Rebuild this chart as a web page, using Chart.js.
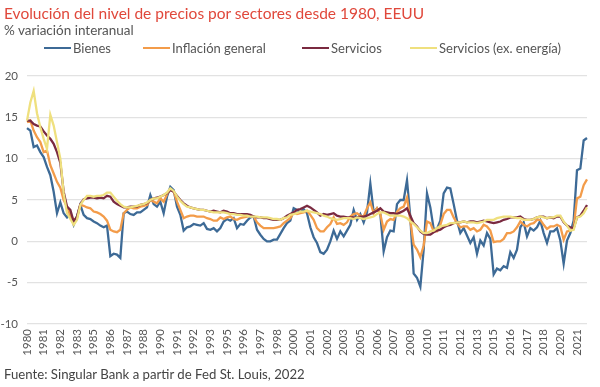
<!DOCTYPE html>
<html>
<head>
<meta charset="utf-8">
<script src="https://cdn.jsdelivr.net/npm/chart.js@4.4.1/dist/chart.umd.min.js"></script>
<style>
  body { margin: 0; background: #fff; font-family: Lato, "Open Sans", sans-serif; }
  #wrap { position: relative; width: 600px; height: 387px; overflow: hidden; }
  #chart { position: absolute; left: 0; top: 0; }
  .txt { position: absolute; white-space: nowrap; }
  .title { left: 4px; top: 4px; font-size: 15.5px; color: #e0483b; }
  .sub { left: 4px; top: 22px; font-size: 13.5px; color: #555; }
  .footer { left: 4px; top: 366px; font-size: 13.2px; color: #444; }
  .leg { position: absolute; top: 40px; font-size: 13px; color: #555; display: flex; align-items: center; white-space: nowrap; }
  .leg span.ln { display: inline-block; width: 27px; height: 2px; margin-right: 2px; }
</style>
</head>
<body>
<div id="wrap">
  <canvas id="chart" width="600" height="387"></canvas>
  <div class="txt title">Evolución del nivel de precios por sectores desde 1980, EEUU</div>
  <div class="txt sub">% variación interanual</div>
  <div id="legend"></div>
  <div class="txt footer">Fuente: Singular Bank a partir de Fed St. Louis, 2022</div>
</div>
<script>
// quarterly data, 1980 Q1 -> 2022 Q1 (% yoy)
let startYear = 1980;
let yTicks = [-10, -5, 0, 5, 10, 15, 20];

let bienes = [
  13.7, 13.4, 11.4, 11.6,
  10.8, 10.2, 9.0, 8.0,
  6.0, 3.4, 4.7, 3.4,
  2.9, 3.4, 2.0, 3.0,
  4.4, 3.2, 2.8, 2.7,
  2.4, 2.2, 1.9, 1.7,
  1.9, -1.8, -1.5, -1.6,
  -2.0, 3.4, 3.6, 3.3,
  3.2, 3.5, 3.5, 3.8,
  4.1, 5.6, 4.5, 4.2,
  4.8, 3.4, 5.4, 6.6,
  6.2, 4.2, 3.2, 1.3,
  1.7, 1.8, 2.1, 2.0,
  1.9, 2.2, 1.5, 1.4,
  1.6, 1.2, 1.6, 2.4,
  2.7, 2.5, 2.8, 1.6,
  2.1, 2.0, 2.5, 2.9,
  3.0, 1.4, 0.8, 0.3,
  0.0, 0.0, 0.2, 0.2,
  0.9, 1.6, 2.2, 2.5,
  4.0, 3.8, 3.5, 3.9,
  3.4, 1.7, 0.5, -0.2,
  -1.3, -1.5, -1.0, 0.0,
  1.3, 0.3, 1.2, 0.6,
  1.3, 2.0, 3.8, 2.6,
  3.3, 2.3, 3.5, 7.0,
  3.5, 4.0, 3.3, -1.2,
  0.5, 1.3, 1.2, 4.5,
  5.0, 5.0, 7.4, 2.9,
  -3.9, -4.4, -5.5, -1.0,
  5.8, 4.1, 1.5, 1.5,
  2.5, 5.8, 6.5, 6.4,
  4.5, 2.5, 1.0, 1.6,
  0.7, -0.2, 0.5, -1.5,
  0.1, -0.5, 1.0, 0.3,
  -4.0, -3.3, -3.5, -3.0,
  -3.2, -1.3, -2.0, -1.0,
  1.7, 2.3, 0.6, 1.6,
  1.3, 1.7, 2.5, 1.0,
  -0.2, 1.2, 1.2, 1.6,
  0.1, -2.7, 0.1, 1.0,
  2.5, 8.6, 8.8, 12.2,
  12.5
];

let inflacionGeneral = [
  14.4, 14.6, 13.4, 12.6,
  12.0, 10.8, 11.0, 9.2,
  8.2, 7.2, 6.5, 5.0,
  4.2, 3.1, 2.6, 2.8,
  4.4, 4.3, 4.1, 4.0,
  3.6, 3.5, 3.3, 3.0,
  2.5, 1.4, 1.2, 1.1,
  1.4, 3.4, 3.8, 4.1,
  4.0, 4.0, 4.2, 4.3,
  4.4, 5.0, 4.8, 4.6,
  5.2, 4.8, 5.7, 6.3,
  6.0, 4.8, 3.8, 2.8,
  3.0, 3.1, 3.1, 3.0,
  3.0, 3.0, 2.8, 2.7,
  2.5, 2.5, 2.9, 2.7,
  2.9, 3.0, 2.7, 2.6,
  2.8, 2.9, 3.0, 3.1,
  3.0, 2.3, 1.9, 1.6,
  1.6, 1.6, 1.6, 1.7,
  1.8, 2.2, 2.5, 2.8,
  3.5, 3.3, 3.4, 3.5,
  3.7, 3.2, 2.6, 1.6,
  1.2, 1.2, 1.7, 2.1,
  2.9, 2.1, 2.2, 2.0,
  2.3, 3.0, 3.3, 3.4,
  3.1, 3.0, 4.0, 4.7,
  3.4, 4.0, 3.3, 1.4,
  2.4, 2.7, 2.6, 3.6,
  4.0, 4.2, 5.3, 2.5,
  -0.4, -1.0, -1.9, -0.5,
  2.4, 2.2, 1.2, 1.2,
  2.0, 3.3, 3.8, 3.8,
  2.9, 2.2, 1.7, 1.8,
  1.8, 1.4, 1.6, 1.2,
  1.4, 2.0, 1.8, 1.3,
  -0.1, 0.0, 0.0, 0.3,
  1.0, 1.0, 1.2, 1.7,
  2.4, 2.0, 1.8, 2.1,
  2.2, 2.6, 2.6, 2.0,
  1.5, 1.8, 1.8, 2.0,
  1.8, 0.2, 1.2, 1.3,
  1.7, 5.2, 5.4, 6.8,
  7.5
];

let servicios = [
  14.6, 14.6, 14.2, 14.0,
  13.9, 13.3, 12.8, 12.4,
  11.8, 10.8, 9.5, 6.0,
  4.2, 3.8, 2.4, 3.0,
  4.5, 5.1, 5.2, 5.3,
  5.3, 5.2, 5.3, 5.2,
  5.5, 5.4, 4.8, 4.5,
  4.3, 4.1, 4.1, 4.2,
  4.2, 4.2, 4.4, 4.5,
  4.6, 5.0, 5.2, 5.3,
  5.4, 5.6, 5.8, 6.2,
  6.0, 5.5, 5.0, 4.6,
  4.3, 4.1, 4.0, 3.9,
  3.8, 3.8, 3.7, 3.6,
  3.7, 3.6, 3.5, 3.7,
  3.6, 3.4, 3.4, 3.3,
  3.3, 3.3, 3.3, 3.2,
  3.0, 2.9, 2.9, 2.8,
  2.8, 2.7, 2.6, 2.6,
  2.6, 2.8, 3.1, 3.3,
  3.5, 3.8, 3.9, 4.1,
  4.3, 4.1, 3.8, 3.5,
  3.1, 3.3, 3.2, 3.3,
  3.4, 3.1, 3.0, 3.0,
  2.9, 2.9, 2.9, 2.9,
  3.0, 3.0, 3.1, 3.3,
  3.5, 3.7, 4.0, 3.6,
  3.5, 3.4, 3.4, 3.3,
  3.5, 3.7, 4.0, 3.1,
  2.2, 1.8, 1.2, 0.9,
  0.8, 0.8, 1.1, 1.3,
  1.4, 1.7, 1.9, 2.0,
  2.2, 2.3, 2.3, 2.4,
  2.3, 2.4, 2.4, 2.3,
  2.4, 2.5, 2.4, 2.3,
  2.2, 2.3, 2.4, 2.6,
  2.7, 2.9, 2.9, 2.9,
  3.0, 2.7, 2.6, 2.6,
  2.7, 2.9, 3.0, 3.0,
  2.8, 2.9, 2.8, 3.0,
  3.0, 2.3, 1.9, 1.7,
  1.6, 2.9, 3.1, 3.7,
  4.4
];

let serviciosExEnergia = [
  14.6, 16.8, 18.2, 15.5,
  13.8, 12.4, 11.2, 15.3,
  14.0, 12.0, 10.0, 5.8,
  3.4, 2.7, 2.0, 2.6,
  4.4, 5.0, 5.5, 5.5,
  5.4, 5.5, 5.5, 5.6,
  5.9, 5.9, 5.4, 4.9,
  4.5, 4.2, 4.1, 4.1,
  4.2, 4.3, 4.4, 4.5,
  4.7, 5.0, 5.2, 5.2,
  5.4, 5.6, 5.9, 6.4,
  6.1, 5.4, 4.9, 4.5,
  4.2, 4.1, 4.0, 3.9,
  3.8, 3.8, 3.7, 3.6,
  3.5, 3.5, 3.5, 3.5,
  3.4, 3.3, 3.3, 3.2,
  3.2, 3.1, 3.1, 3.0,
  3.0, 3.0, 2.9, 2.9,
  2.9, 2.8, 2.7, 2.7,
  2.6, 2.8, 2.9, 3.2,
  3.3, 3.4, 3.6, 3.6,
  3.7, 3.6, 3.5, 3.4,
  3.3, 3.1, 3.0, 2.8,
  2.7, 2.6, 2.7, 2.8,
  2.8, 2.8, 2.7, 2.9,
  2.8, 2.7, 2.8, 2.9,
  3.0, 3.3, 3.5, 3.5,
  3.3, 3.1, 3.1, 3.1,
  3.1, 3.0, 2.8, 2.4,
  2.1, 1.7, 1.3, 1.0,
  1.0, 1.2, 1.3, 1.6,
  1.8, 1.9, 2.0, 2.2,
  2.2, 2.3, 2.3, 2.4,
  2.3, 2.3, 2.3, 2.2,
  2.3, 2.4, 2.6, 2.6,
  2.6, 2.8, 2.9, 3.0,
  3.0, 3.0, 2.9, 2.8,
  2.8, 2.6, 2.6, 2.6,
  2.7, 2.9, 3.0, 2.9,
  2.8, 2.9, 2.9, 3.1,
  3.1, 2.4, 1.9, 1.3,
  1.4, 2.9, 3.0, 3.4,
  4.1
];

// one label per quarter, only every 5th one is shown (= every 15 months)
let categories = [];
for (let i = 0; i < bienes.length; i++) {
  categories.push(String(startYear + Math.floor(i / 4)));
}

let series = [
  { name: "Bienes", data: bienes, color: "#3d6a96", order: 3 },
  { name: "Inflación general", data: inflacionGeneral, color: "#f39c4a", order: 2 },
  { name: "Servicios", data: servicios, color: "#7a2a40", order: 1 },
  { name: "Servicios (ex. energía)", data: serviciosExEnergia, color: "#efe07e", order: 0 }
];

// html legend
let legendX = [44, 143, 302, 410];
let legendDiv = document.getElementById("legend");
series.forEach(function (s, i) {
  let item = document.createElement("div");
  item.className = "leg";
  item.style.left = legendX[i] + "px";
  item.innerHTML = '<span class="ln" style="background:' + s.color + '"></span>' + s.name;
  legendDiv.appendChild(item);
});

let ctx = document.getElementById("chart").getContext("2d");
let myChart = new Chart(ctx, {
  type: "line",
  data: {
    labels: categories,
    datasets: series.map(function (s) {
      return {
        label: s.name,
        data: s.data,
        borderColor: s.color,
        backgroundColor: s.color,
        borderWidth: 2.3,
        pointRadius: 0,
        tension: 0,
        order: s.order
      };
    })
  },
  options: {
    responsive: false,
    animation: false,
    layout: { padding: { top: 76, left: 0, right: 13, bottom: 23 } },
    plugins: {
      legend: { display: false },
      title: { display: false },
      tooltip: { enabled: false }
    },
    scales: {
      x: {
        offset: false,
        grid: { display: false, drawTicks: false },
        border: { display: false },
        afterFit: function (scale) { scale.height = 40; },
        ticks: {
          autoSkip: false,
          maxRotation: 90,
          minRotation: 90,
          padding: 5,
          color: "#555",
          font: { family: "Lato", size: 11.5 },
          callback: function (value, index) {
            return index % 5 === 0 ? categories[index] : null;
          }
        }
      },
      y: {
        min: yTicks[0],
        max: yTicks[yTicks.length - 1],
        grid: { color: "#e2e2e2", lineWidth: 1.3, drawTicks: false },
        border: { display: false },
        afterFit: function (scale) { scale.width = 27; },
        afterBuildTicks: function (scale) {
          scale.ticks = yTicks.map(function (v) { return { value: v }; });
        },
        ticks: {
          padding: 9,
          color: "#555",
          font: { family: "Lato", size: 11.5 }
        }
      }
    }
  }
});
</script>
</body>
</html>
